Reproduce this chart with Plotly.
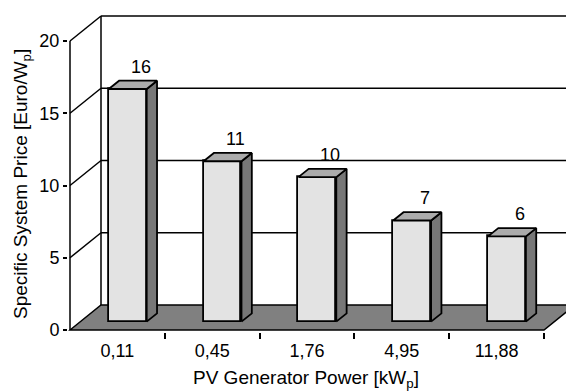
import plotly.graph_objects as go

categories = ["0,11", "0,45", "1,76", "4,95", "11,88"]
values = [16.1, 11.1, 10.0, 7.0, 5.9]
labels = ["16", "11", "10", "7", "6"]
y_ticks = [0, 5, 10, 15, 20]
x_title = "PV Generator Power [kW<sub>p</sub>]"
y_title = "Specific System Price [Euro/W<sub>p</sub>]"

W, H = 566, 391
L, B = 68, 59
PX_X = 94.8   # pixels per category
PX_Y = 14.45  # pixels per unit
x0 = -0.5 - 2 / PX_X
x1 = x0 + (W - L) / PX_X
plot_h = H - B
y0 = -2 / PX_Y
y1 = y0 + plot_h / PX_Y

DX = 31 / PX_X
DY = 25 / PX_Y
n = len(categories)
bw = 0.4
bdx, bdy = DX / 3, DY / 3
FONT = "Liberation Sans, Arial, sans-serif"

shapes = []
line = dict(color="black", width=1.5)
# floor
shapes.append(dict(type="path", xref="x", yref="y", layer="below",
                   path=f"M {-0.5},0 L {n-0.5},0 L {n-0.5+DX},{DY} L {-0.5+DX},{DY} Z",
                   fillcolor="#808080", line=line))
# back wall left edge and top
shapes.append(dict(type="line", xref="x", yref="y", layer="below",
                   x0=-0.5 + DX, y0=DY, x1=-0.5 + DX, y1=y_ticks[-1] + DY, line=line))
for v in y_ticks[1:]:
    shapes.append(dict(type="line", xref="x", yref="y", layer="below",
                       x0=-0.5 + DX, y0=v + DY, x1=x1 + 1, y1=v + DY, line=line))
    shapes.append(dict(type="line", xref="x", yref="y", layer="below",
                       x0=-0.5, y0=v, x1=-0.5 + DX, y1=v + DY, line=line))
# y axis line
shapes.append(dict(type="line", xref="x", yref="y", layer="below",
                   x0=-0.5, y0=0, x1=-0.5, y1=y_ticks[-1], line=line))

fig = go.Figure()
fig.add_trace(go.Bar(x=list(range(n)), y=values, base=bdy, width=bw,
                     offset=bdx - bw / 2,
                     marker=dict(color="#e3e3e3", line=dict(color="black", width=1.8)),
                     showlegend=False, hoverinfo="skip"))

side_x, side_y, top_x, top_y = [], [], [], []
for i, v in enumerate(values):
    xl = i + bdx - bw / 2
    xr = xl + bw
    b = bdy
    t = bdy + v
    side_x += [xr, xr + bdx, xr + bdx, xr, xr, None]
    side_y += [b, b + bdy, t + bdy, t, b, None]
    top_x += [xl, xr, xr + bdx, xl + bdx, xl, None]
    top_y += [t, t, t + bdy, t + bdy, t, None]

fig.add_trace(go.Scatter(x=side_x, y=side_y, mode="lines", fill="toself",
                         fillcolor="#777777", line=dict(color="black", width=1.8),
                         showlegend=False, hoverinfo="skip"))
fig.add_trace(go.Scatter(x=top_x, y=top_y, mode="lines", fill="toself",
                         fillcolor="#ababab", line=dict(color="black", width=1.8),
                         showlegend=False, hoverinfo="skip"))

annotations = []
for i, (v, lab) in enumerate(zip(values, labels)):
    annotations.append(dict(x=i + bdx + 13 / PX_X, y=v + 2 * bdy, xref="x", yref="y",
                            text=lab, showarrow=False, yanchor="bottom", yshift=2,
                            font=dict(family=FONT, size=18, color="black")))
annotations.append(dict(x=(306 - L) / (W - L), y=-(379 - plot_h) / plot_h, xref="paper", yref="paper",
                        text=x_title, showarrow=False, xanchor="center", yanchor="middle",
                        font=dict(family=FONT, size=19, color="black")))
annotations.append(dict(x=-(L - 22) / (W - L), y=(plot_h - 184) / plot_h, xref="paper", yref="paper",
                        text=y_title, showarrow=False, textangle=-90, xanchor="center", yanchor="middle",
                        font=dict(family=FONT, size=19, color="black")))

fig.update_layout(
    width=W, height=H,
    margin=dict(l=L, r=0, t=0, b=B),
    paper_bgcolor="white", plot_bgcolor="white",
    shapes=shapes, annotations=annotations,
    xaxis=dict(range=[x0, x1], tickvals=list(range(n)), ticktext=categories,
               showgrid=False, zeroline=False, showline=False, ticks="",
               ticklabelstandoff=6,
               tickfont=dict(family=FONT, size=18, color="black"),
               minor=dict(tickvals=[i + 0.5 for i in range(n)], ticks="outside",
                          ticklen=6, tickcolor="black", tickwidth=1.5, showgrid=False),
               fixedrange=True),
    yaxis=dict(range=[y0, y1], tickvals=y_ticks, showgrid=False, zeroline=False,
               showline=False, ticks="outside", ticklen=4, tickwidth=1.5, tickcolor="black",
               tickfont=dict(family=FONT, size=18, color="black"), fixedrange=True),
    bargap=0,
)

fig.write_html("out.html")
